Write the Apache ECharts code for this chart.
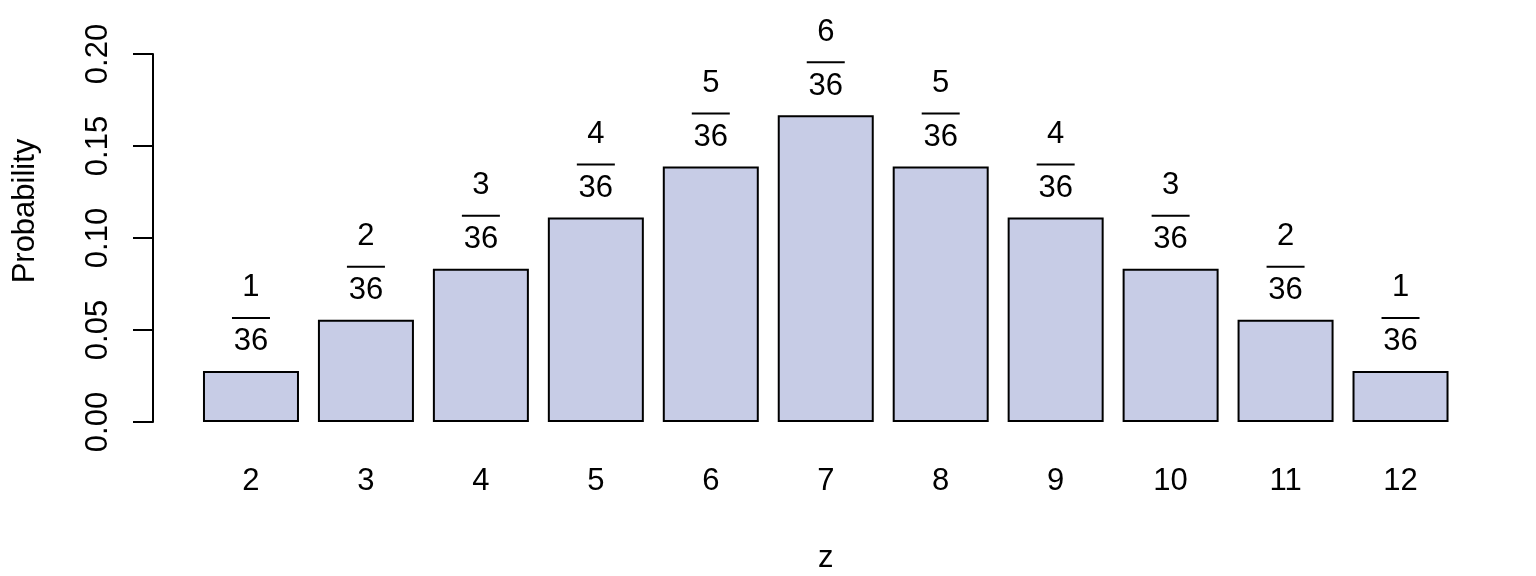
<!DOCTYPE html>
<html>
<head>
<meta charset="utf-8">
<script src="https://cdn.jsdelivr.net/npm/echarts@6/dist/echarts.min.js"></script>
<style>
  html, body { margin: 0; padding: 0; background: #fff; }
  #chart { width: 1536px; height: 576px; }
</style>
</head>
<body>
<div id="chart"></div>
<script>
// sum of two dice and the number of ways to get it out of 36
const sums = ['2', '3', '4', '5', '6', '7', '8', '9', '10', '11', '12']
const ways = [1, 2, 3, 4, 5, 6, 5, 4, 3, 2, 1]
const outcomes = 36
const probability = ways.map(w => w / outcomes)

const FONT = 'Liberation Sans'
const FS = 31

const chart = echarts.init(document.getElementById('chart'))

chart.setOption({
  backgroundColor: '#ffffff',
  animation: false,
  textStyle: { fontFamily: FONT, color: '#000' },
  grid: {
    left: 193.5,
    right: 78,
    top: 54,
    bottom: 154,
    outerBoundsMode: 'none',
  },
  xAxis: {
    type: 'category',
    data: sums,
    name: 'z',
    nameLocation: 'middle',
    nameGap: 121,
    nameTextStyle: { fontSize: FS, color: '#000', fontFamily: FONT },
    axisLine: { show: false },
    axisTick: { show: false },
    axisLabel: { fontSize: FS, color: '#000', fontFamily: FONT, margin: 44 },
  },
  yAxis: {
    type: 'value',
    min: 0,
    max: 0.2,
    interval: 0.05,
    offset: 40.5,
    name: 'Probability',
    nameLocation: 'middle',
    nameGap: 112,
    nameTextStyle: { fontSize: FS, color: '#000', fontFamily: FONT, padding: [0, 0, 0, 54] },
    axisLine: { show: true, lineStyle: { color: '#000', width: 2 } },
    axisTick: { show: true, length: 20, lineStyle: { color: '#000', width: 2 } },
    axisLabel: {
      rotate: 90,
      margin: 39,
      fontSize: FS,
      color: '#000',
      fontFamily: FONT,
      formatter: v => v.toFixed(2),
    },
    splitLine: { show: false },
  },
  series: [
    {
      type: 'bar',
      data: probability,
      barWidth: 96,
      itemStyle: { color: '#C7CCE6', borderColor: '#000', borderWidth: 2 },
      silent: true,
    },
    {
      // fraction labels (ways / 36) above each bar
      type: 'custom',
      data: probability.map((p, i) => [i, p, ways[i]]),
      encode: { x: 0, y: 1 },
      silent: true,
      clip: false,
      z: 3,
      renderItem(params, api) {
        const pt = api.coord([api.value(0), api.value(1)])
        const x = pt[0]
        const y = pt[1]
        const txt = (t, ty) => ({
          type: 'text',
          style: {
            text: t, x: x, y: ty,
            align: 'center', verticalAlign: 'middle',
            fontSize: FS, fontFamily: FONT, fill: '#000',
          },
        })
        return {
          type: 'group',
          children: [
            txt(String(api.value(2)), y - 83),
            {
              type: 'line',
              shape: { x1: x - 19, y1: y - 53, x2: x + 19, y2: y - 53 },
              style: { stroke: '#000', lineWidth: 2 },
            },
            txt(String(outcomes), y - 29),
          ],
        }
      },
    },
  ],
})
</script>
</body>
</html>
